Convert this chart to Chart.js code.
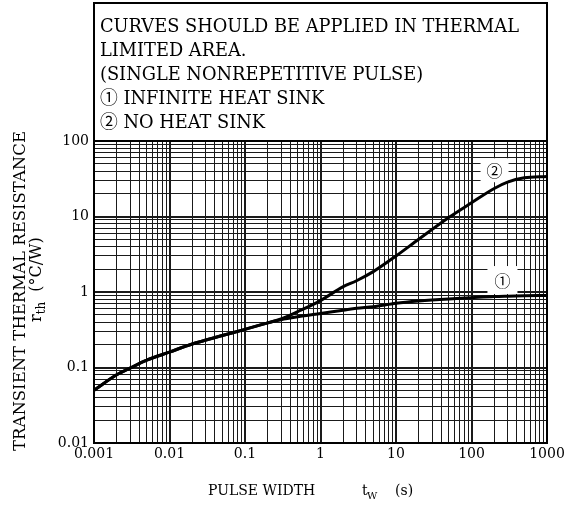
<!DOCTYPE html>
<html>
<head>
<meta charset="utf-8">
<script src="https://cdn.jsdelivr.net/npm/chart.js@4.4.1/dist/chart.umd.min.js"></script>
<style>
    html, body { margin: 0; padding: 0; background: #ffffff; }
    #wrap { width: 565px; height: 507px; }
</style>
</head>
<body>
<div id="wrap"><canvas id="rth" width="565" height="507"></canvas></div>
<script>
// pulse width (s) and transient thermal resistance (°C/W)
const pulseWidths = [0.001, 0.002, 0.003, 0.005, 0.01, 0.02, 0.05, 0.1, 0.2, 0.3, 0.5, 1, 2, 3, 5, 10, 20, 50, 100, 200, 300, 500, 1000];
const infiniteSink = [0.05, 0.08, 0.098, 0.125, 0.16, 0.205, 0.265, 0.32, 0.39, 0.43, 0.47, 0.52, 0.575, 0.61, 0.64, 0.71, 0.76, 0.81, 0.84, 0.87, 0.88, 0.89, 0.9];
const noSink = [0.05, 0.08, 0.098, 0.125, 0.16, 0.205, 0.265, 0.32, 0.39, 0.44, 0.55, 0.77, 1.18, 1.41, 1.86, 3.0, 5.0, 9.7, 15.2, 23.5, 28.5, 32.5, 34];

// axis decades and labels
const xDecades = [0.001, 0.01, 0.1, 1, 10, 100, 1000];
const xTickLabels = ['0.001', '0.01', '0.1', '1', '10', '100', '1000'];
const yDecades = [0.01, 0.1, 1, 10, 100];
const yTickLabels = ['0.01', '0.1', '1', '10', '100'];
const minorSteps = [1, 2, 3, 4, 5, 6, 7, 8, 9];

const noteLines = [
    'CURVES SHOULD BE APPLIED IN THERMAL',
    'LIMITED AREA.',
    '(SINGLE NONREPETITIVE PULSE)',
    '\u2460 INFINITE HEAT SINK',
    '\u2461 NO HEAT SINK'
];

const SERIF = '"DejaVu Serif", "Noto Sans CJK JP", serif';
const CIRCLED = '"Noto Sans CJK JP", "DejaVu Serif", serif';

// 1..9 x 10^n for every decade, plus the last decade
function logGrid(decades) {
    const out = [];
    for (let i = 0; i < decades.length - 1; i++) {
        minorSteps.forEach(m => out.push(+(decades[i] * m).toPrecision(3)));
    }
    out.push(decades[decades.length - 1]);
    return out;
}

function isDecade(decades, v) {
    return decades.some(d => Math.abs(d - v) / d < 1e-6);
}

function labelFor(decades, labels, v) {
    const i = decades.findIndex(d => Math.abs(d - v) / d < 1e-6);
    return i >= 0 ? labels[i] : '';
}

// curve markers sit under the curves, on a white patch over the grid
const markerPlugin = {
    id: 'markers',
    beforeDatasetsDraw(chart) {
        const ctx = chart.ctx;
        const xs = chart.scales.x;
        const ys = chart.scales.y;
        const markers = [
            { text: '\u2461', x: 202, y: 41, w: 28, h: 24 },
            { text: '\u2460', x: 257, y: 1.44, w: 30, h: 28 }
        ];
        ctx.save();
        ctx.font = '16px ' + CIRCLED;
        ctx.textAlign = 'center';
        ctx.textBaseline = 'middle';
        markers.forEach(m => {
            const px = xs.getPixelForValue(m.x);
            const py = ys.getPixelForValue(m.y);
            ctx.fillStyle = '#fff';
            ctx.fillRect(px - m.w / 2, py - m.h / 2, m.w, m.h);
            ctx.fillStyle = '#000';
            ctx.fillText(m.text, px, py + 1);
        });
        ctx.restore();
    }
};

// frame, note box and axis titles
const sheetPlugin = {
    id: 'sheet',
    afterDatasetsDraw(chart) {
        const ctx = chart.ctx;
        const a = chart.chartArea;
        ctx.save();

        // plot frame
        ctx.strokeStyle = '#000';
        ctx.lineWidth = 2;
        ctx.strokeRect(a.left, a.top, a.right - a.left, a.bottom - a.top);

        // note box above the plot
        ctx.strokeRect(a.left, 3, a.right - a.left, a.top - 3);
        ctx.fillStyle = '#000';
        ctx.font = '17.8px ' + SERIF;
        ctx.textAlign = 'left';
        ctx.textBaseline = 'alphabetic';
        noteLines.forEach((t, i) => ctx.fillText(t, a.left + 6, 32 + i * 24));

        // y axis title, two rotated lines
        ctx.save();
        ctx.translate(25, 291);
        ctx.rotate(-Math.PI / 2);
        ctx.font = '16.5px ' + SERIF;
        ctx.textAlign = 'center';
        ctx.textBaseline = 'alphabetic';
        ctx.fillText('TRANSIENT THERMAL RESISTANCE', 0, 0);
        ctx.restore();

        ctx.save();
        ctx.translate(41, 322);
        ctx.rotate(-Math.PI / 2);
        ctx.textAlign = 'left';
        ctx.textBaseline = 'alphabetic';
        ctx.font = '16px ' + SERIF;
        ctx.fillText('r', 0, 0);
        let w = ctx.measureText('r').width;
        ctx.font = '12px ' + SERIF;
        ctx.fillText('th', w, 4);
        w += ctx.measureText('th').width + 10;
        ctx.font = '16px ' + SERIF;
        ctx.fillText('(\u00B0C/W)', w, 0);
        ctx.restore();

        // x axis title
        ctx.textAlign = 'left';
        ctx.textBaseline = 'alphabetic';
        ctx.font = '14px ' + SERIF;
        ctx.fillText('PULSE WIDTH', 208, 495);
        ctx.fillText('t', 362, 495);
        ctx.font = '10px ' + SERIF;
        ctx.fillText('W', 367, 499);
        ctx.font = '14px ' + SERIF;
        ctx.fillText('(s)', 395, 495);

        ctx.restore();
    }
};

const toPoints = ys => pulseWidths.map((x, i) => ({ x: x, y: ys[i] }));

const chart = new Chart(document.getElementById('rth'), {
    type: 'line',
    data: {
        datasets: [
            {
                label: 'INFINITE HEAT SINK',
                data: toPoints(infiniteSink),
                borderColor: '#000',
                borderWidth: 3,
                pointRadius: 0,
                cubicInterpolationMode: 'monotone',
                fill: false
            },
            {
                label: 'NO HEAT SINK',
                data: toPoints(noSink),
                borderColor: '#000',
                borderWidth: 3,
                pointRadius: 0,
                cubicInterpolationMode: 'monotone',
                fill: false
            }
        ]
    },
    options: {
        responsive: false,
        animation: false,
        devicePixelRatio: 1,
        layout: { padding: { left: 0, top: 141, right: 18, bottom: 0 } },
        plugins: {
            legend: { display: false },
            tooltip: { enabled: false },
            title: { display: false }
        },
        scales: {
            x: {
                type: 'logarithmic',
                min: 0.001,
                max: 1000,
                afterBuildTicks: s => { s.ticks = logGrid(xDecades).map(v => ({ value: v })); },
                afterFit: s => {
                    s.height = 64;
                    // let "1000" hang into the right margin instead of shrinking the plot
                    s.paddingLeft = 0;
                    s.paddingRight = 0;
                },
                border: { display: false },
                grid: {
                    color: '#1a1a1a',
                    drawTicks: false,
                    lineWidth: c => (c.tick && isDecade(xDecades, c.tick.value) ? 2 : 1)
                },
                ticks: {
                    autoSkip: false,
                    maxRotation: 0,
                    padding: 3,
                    color: '#000',
                    font: { family: SERIF, size: 14 },
                    callback: v => labelFor(xDecades, xTickLabels, v)
                }
            },
            y: {
                type: 'logarithmic',
                min: 0.01,
                max: 100,
                afterBuildTicks: s => { s.ticks = logGrid(yDecades).map(v => ({ value: v })); },
                afterFit: s => { s.width = 94; },
                border: { display: false },
                grid: {
                    color: '#1a1a1a',
                    drawTicks: false,
                    lineWidth: c => (c.tick && isDecade(yDecades, c.tick.value) ? 2 : 1)
                },
                ticks: {
                    autoSkip: false,
                    padding: 5,
                    color: '#000',
                    font: { family: SERIF, size: 14 },
                    callback: v => labelFor(yDecades, yTickLabels, v)
                }
            }
        }
    },
    plugins: [markerPlugin, sheetPlugin]
});
</script>
</body>
</html>
